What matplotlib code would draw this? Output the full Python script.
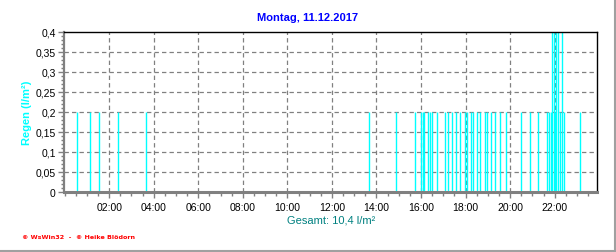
import numpy as np
import matplotlib
matplotlib.use("Agg")
import matplotlib.pyplot as plt
from matplotlib.lines import Line2D
from matplotlib.ticker import MultipleLocator, FuncFormatter

# rain events of the day (time of reading, amount in l/m2)
times = ["00:34", "01:09", "01:33", "02:24", "03:40",
         "13:40", "14:53", "15:44", "16:00", "16:04", "16:09", "16:19",
         "16:24", "16:30", "16:43", "17:05", "17:12", "17:24", "17:34",
         "17:45", "17:58", "18:05", "18:15", "18:21", "18:30", "18:39",
         "18:51", "18:59", "19:09", "19:20", "19:33", "19:48", "20:30",
         "20:54", "21:15", "21:39", "21:44", "21:49", "21:53", "21:57",
         "22:01", "22:04", "22:08", "22:15", "22:19", "22:24", "23:08"]
rain = [0.2, 0.2, 0.2, 0.2, 0.2,
        0.2, 0.2, 0.2, 0.2, 0.2, 0.2, 0.2,
        0.2, 0.2, 0.2, 0.2, 0.2, 0.2, 0.2,
        0.2, 0.2, 0.2, 0.2, 0.2, 0.2, 0.2,
        0.2, 0.2, 0.2, 0.2, 0.2, 0.2, 0.2,
        0.2, 0.2, 0.2, 0.2, 0.2, 0.4, 0.4,
        0.2, 0.4, 0.4, 0.2, 0.4, 0.2, 0.2]

title = "Montag, 11.12.2017"
ylabel = "Regen (l/m²)"
total = "Gesamt: 10,4 l/m²"
footer = "© WsWin32  -  © Heike Blödorn"

xtick_hours = [2, 4, 6, 8, 10, 12, 14, 16, 18, 20, 22]
ytick_vals = [0, 0.05, 0.1, 0.15, 0.2, 0.25, 0.3, 0.35, 0.4]

plt.rcParams['font.family'] = ['Liberation Sans', 'DejaVu Sans']

hours = np.array([int(t[:2]) + int(t[3:]) / 60.0 for t in times])

fig = plt.figure(figsize=(6.16, 2.53), dpi=100)
ax = fig.add_axes([64 / 616, 1 - 193 / 253, 533 / 616, 160 / 253])

# grid first so the bars sit on top
for h in xtick_hours:
    ax.axvline(h, color="#808080", lw=0.9, ls=(0, (3.5, 2.5)), zorder=1)
for v in ytick_vals[1:-1]:
    ax.axhline(v, color="#808080", lw=0.9, ls=(0, (3.5, 2.5)), zorder=1)

# one thin line per reading
ax.vlines(hours, 0, rain, color="#00ffff", lw=1.0, zorder=2, snap=True)

ax.set_xlim(-0.03, 23.9)
ax.set_ylim(0, 0.4)

ax.set_xticks(xtick_hours)
ax.set_xticklabels([f"{h:02d}:00" for h in xtick_hours])
ax.xaxis.set_minor_locator(MultipleLocator(0.5))
ax.set_yticks(ytick_vals)
ax.yaxis.set_major_formatter(FuncFormatter(lambda v, p: f"{v:g}".replace(".", ",")))
ax.yaxis.set_minor_locator(MultipleLocator(0.01))

ax.tick_params(axis="both", which="both", colors="#808080", labelcolor="black", labelsize=7.5)
ax.tick_params(axis="x", which="major", length=4, width=1, pad=3)
ax.tick_params(axis="x", which="minor", length=3, width=1)
ax.tick_params(axis="y", which="major", length=4, width=1, pad=2)
ax.tick_params(axis="y", which="minor", length=2, width=1)

for side in ["top", "right"]:
    ax.spines[side].set_color("black")
    ax.spines[side].set_linewidth(1.0)
ax.spines["left"].set_color("#808080")
ax.spines["left"].set_linewidth(1.6)
ax.spines["bottom"].set_color("#808080")
ax.spines["bottom"].set_linewidth(2.2)

# texts
fig.text(308 / 616, 1 - 18 / 253, title, ha="center", va="center",
         color="#0000ff", fontsize=8, fontweight="bold")
fig.text(27 / 616, 1 - 113 / 253, ylabel, ha="center", va="center", rotation=90,
         color="#00ffff", fontsize=8, fontweight="bold")
fig.text(331 / 616, 1 - 221 / 253, total, ha="center", va="center",
         color="#008080", fontsize=8)
fig.text(22 / 616, 1 - 238 / 253, footer, ha="left", va="center",
         color="#ff0000", fontsize=4.6, fontweight="bold", family="DejaVu Sans")

# panel border on the right and bottom
fig.add_artist(Line2D([615 / 616, 615 / 616], [0, 1], color="#a0a0a0", lw=1.5))
fig.add_artist(Line2D([0, 1], [1.5 / 253, 1.5 / 253], color="#a0a0a0", lw=1.5))

fig.savefig("out.png", dpi=100)
